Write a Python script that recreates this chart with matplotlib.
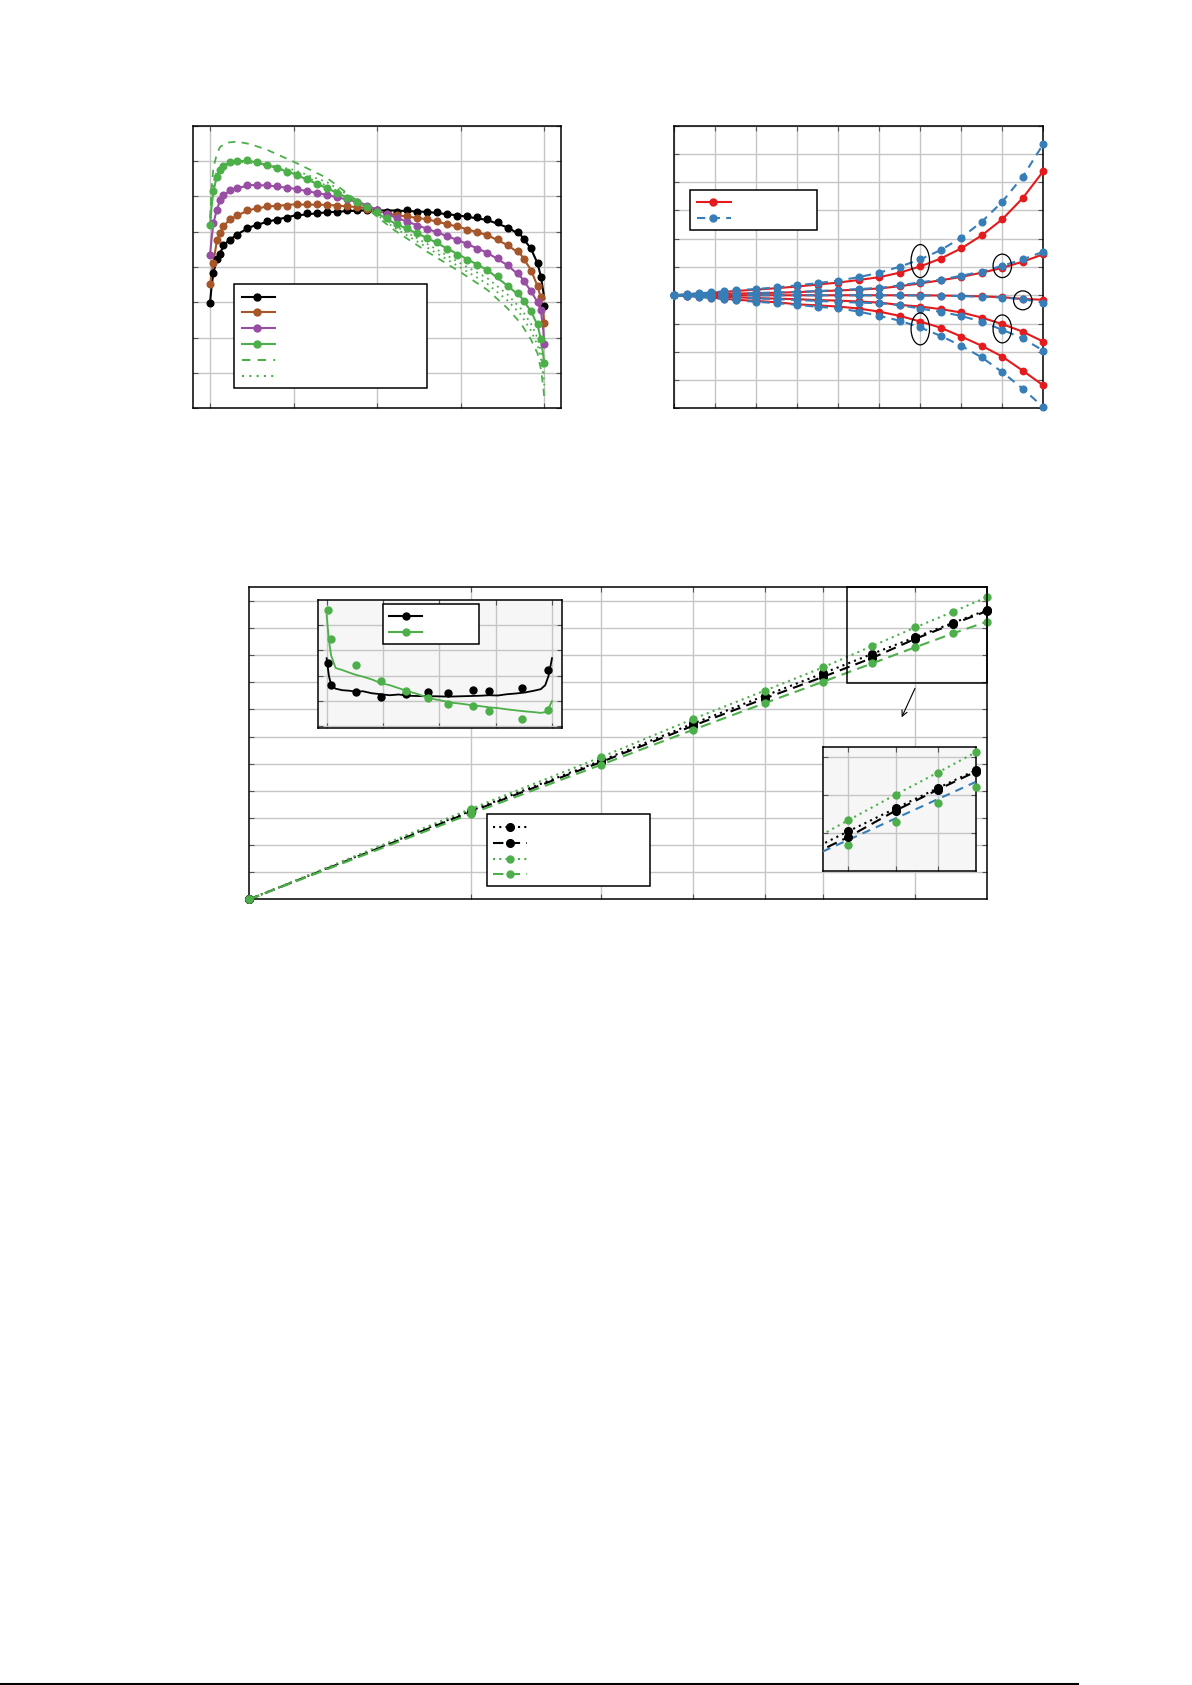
import matplotlib
matplotlib.use("Agg")
import matplotlib.pyplot as plt
from matplotlib.patches import Rectangle, Ellipse
from matplotlib.lines import Line2D
from matplotlib.ticker import NullLocator

W, H = 1192, 1685

BLACK = "#000000"
BROWN = "#a65628"
PURPLE = "#984ea3"
GREEN = "#4daf4a"
RED = "#e41a1c"
BLUE = "#377eb8"

# ---- top-left panel: profiles (markers + fitted lines) ----
tl_x_pts = [0.0, 0.01, 0.02, 0.03, 0.04, 0.06, 0.08, 0.11, 0.14, 0.17, 0.20, 0.23, 0.26, 0.29,
            0.32, 0.35, 0.38, 0.41, 0.44, 0.47, 0.50, 0.53, 0.56, 0.59, 0.62, 0.65, 0.68, 0.71,
            0.74, 0.77, 0.80, 0.83, 0.86, 0.89, 0.92, 0.94, 0.96, 0.98, 0.99, 1.0]
black_pts = [2.98, 3.83, 4.23, 4.38, 4.61, 4.77, 4.92, 5.10, 5.20, 5.29, 5.34, 5.39, 5.48, 5.53,
             5.53, 5.57, 5.57, 5.60, 5.60, 5.60, 5.62, 5.55, 5.55, 5.62, 5.55, 5.55, 5.57, 5.50,
             5.45, 5.45, 5.41, 5.36, 5.26, 5.10, 4.98, 4.79, 4.54, 4.10, 3.72, 2.91]
brown_pts = [3.51, 4.10, 4.76, 4.97, 5.16, 5.35, 5.46, 5.60, 5.67, 5.72, 5.73, 5.74, 5.79, 5.79,
             5.79, 5.76, 5.74, 5.72, 5.70, 5.65, 5.58, 5.50, 5.47, 5.44, 5.40, 5.35, 5.30, 5.22,
             5.15, 5.05, 4.98, 4.90, 4.78, 4.62, 4.45, 4.22, 3.90, 3.45, 3.15, 2.42]
purple_pts = [4.35, 5.24, 5.62, 5.90, 6.03, 6.17, 6.23, 6.32, 6.33, 6.31, 6.28, 6.24, 6.21, 6.15,
              6.09, 6.04, 5.99, 5.93, 5.83, 5.72, 5.62, 5.50, 5.38, 5.27, 5.17, 5.08, 4.99, 4.88,
              4.77, 4.64, 4.52, 4.40, 4.25, 4.05, 3.83, 3.60, 3.32, 3.02, 2.78, 1.81]
green_pts = [5.20, 6.14, 6.56, 6.75, 6.86, 6.96, 7.00, 7.03, 6.96, 6.89, 6.80, 6.70, 6.61, 6.49,
             6.36, 6.23, 6.09, 5.95, 5.83, 5.70, 5.55, 5.40, 5.22, 5.10, 4.96, 4.82, 4.71, 4.51,
             4.35, 4.21, 4.07, 3.91, 3.74, 3.47, 3.27, 3.03, 2.75, 2.40, 1.95, 1.29]

tl_x_line = [0.0, 0.005, 0.01, 0.02, 0.03, 0.05, 0.08, 0.12, 0.17, 0.25, 0.35, 0.45, 0.55, 0.65,
             0.75, 0.83, 0.89, 0.93, 0.96, 0.98, 0.99, 0.997, 1.0]
black_line = [3.0, 3.5, 3.83, 4.22, 4.42, 4.7, 4.92, 5.13, 5.28, 5.45, 5.55, 5.6, 5.6, 5.56,
              5.45, 5.33, 5.12, 4.9, 4.52, 4.1, 3.72, 3.3, 3.1]
brown_line = [3.5, 3.85, 4.15, 4.72, 4.97, 5.26, 5.46, 5.62, 5.71, 5.77, 5.76, 5.69, 5.48, 5.35,
              5.12, 4.90, 4.62, 4.35, 3.92, 3.45, 3.12, 2.7, 2.42]
purple_line = [4.35, 4.85, 5.24, 5.62, 5.88, 6.1, 6.23, 6.32, 6.31, 6.22, 6.04, 5.82, 5.42, 5.08,
               4.73, 4.40, 4.05, 3.72, 3.32, 3.0, 2.75, 2.2, 1.81]
green_line = [5.2, 5.75, 6.14, 6.56, 6.75, 6.92, 7.0, 7.0, 6.89, 6.64, 6.23, 5.79, 5.25, 4.82,
              4.32, 3.91, 3.47, 3.15, 2.75, 2.35, 1.95, 1.5, 1.25]
green_dash_line = [5.4, 6.3, 6.8, 7.2, 7.4, 7.52, 7.55, 7.48, 7.32, 6.98, 6.52, 5.8, 5.05, 4.43,
                   3.85, 3.35, 2.83, 2.4, 1.95, 1.55, 1.1, 0.6, 0.3]
green_dot_a = [5.2, 5.9, 6.3, 6.6, 6.75, 6.88, 6.95, 6.95, 6.87, 6.68, 6.3, 5.82, 5.18, 4.65,
               4.1, 3.68, 3.22, 2.82, 2.4, 1.98, 1.62, 1.15, 0.85]
green_dot_b = [5.2, 6.0, 6.4, 6.7, 6.85, 6.95, 6.98, 6.95, 6.9, 6.75, 6.4, 5.82, 5.12, 4.55,
               3.98, 3.52, 3.05, 2.65, 2.2, 1.78, 1.4, 0.95, 0.65]

# ---- top-right panel: spreading trajectories ----
tr_x = [0, 0.3, 0.6, 0.9, 1.2, 1.5, 2, 2.5, 3, 3.5, 4, 4.5, 5, 5.5, 6, 6.5, 7, 7.5, 8, 8.5, 9]
red_curves = [
    [4.0, 4.03, 4.06, 4.09, 4.12, 4.15, 4.20, 4.25, 4.31, 4.38, 4.45, 4.54, 4.64, 4.80, 5.02, 5.30, 5.66, 6.12, 6.69, 7.44, 8.39],
    [4.0, 4.01, 4.03, 4.04, 4.05, 4.06, 4.07, 4.09, 4.11, 4.14, 4.17, 4.20, 4.24, 4.32, 4.42, 4.53, 4.65, 4.80, 4.97, 5.19, 5.45],
    [4.0, 4.0, 4.0, 4.0, 4.0, 4.0, 4.0, 4.0, 4.0, 4.0, 4.0, 4.0, 4.0, 4.0, 4.0, 3.99, 3.98, 3.96, 3.93, 3.87, 3.84],
    [4.0, 3.99, 3.97, 3.96, 3.95, 3.93, 3.90, 3.88, 3.86, 3.83, 3.81, 3.78, 3.74, 3.66, 3.60, 3.51, 3.39, 3.21, 2.98, 2.71, 2.36],
    [4.0, 3.98, 3.95, 3.92, 3.88, 3.84, 3.80, 3.75, 3.68, 3.64, 3.60, 3.53, 3.42, 3.27, 3.07, 2.85, 2.54, 2.21, 1.83, 1.33, 0.81],
]
blue_curves = [
    [4.0, 4.04, 4.07, 4.10, 4.14, 4.18, 4.22, 4.28, 4.35, 4.43, 4.52, 4.64, 4.80, 5.01, 5.27, 5.60, 6.04, 6.60, 7.31, 8.20, 9.35],
    [4.0, 4.01, 4.03, 4.04, 4.05, 4.06, 4.08, 4.10, 4.12, 4.15, 4.18, 4.22, 4.26, 4.35, 4.46, 4.55, 4.69, 4.84, 5.04, 5.27, 5.54],
    [4.0, 4.0, 4.0, 4.0, 4.0, 4.0, 4.0, 4.0, 4.0, 4.0, 4.0, 4.0, 4.0, 4.0, 3.99, 3.99, 3.97, 3.95, 3.92, 3.86, 3.74],
    [4.0, 3.99, 3.97, 3.96, 3.94, 3.92, 3.89, 3.86, 3.83, 3.80, 3.77, 3.74, 3.72, 3.65, 3.53, 3.41, 3.27, 3.06, 2.78, 2.47, 2.04],
    [4.0, 3.98, 3.94, 3.90, 3.86, 3.82, 3.77, 3.72, 3.66, 3.59, 3.54, 3.42, 3.27, 3.10, 2.86, 2.56, 2.21, 1.80, 1.28, 0.69, 0.04],
]
ellipse_x = [6, 8, 8.5, 6, 8]
ellipse_y = [5.21, 5.04, 3.82, 2.81, 2.81]
ellipse_w = [0.45, 0.45, 0.45, 0.45, 0.45]
ellipse_h = [1.17, 0.83, 0.67, 1.13, 0.99]

# ---- bottom panel: scaling on log x ----
b_x = [1, 2, 3, 4, 5, 6, 7, 8, 9, 10]
black_dotted = [0, 3.27, 5.11, 6.48, 7.50, 8.33, 9.05, 9.66, 10.19, 10.66]
black_dashed = [0, 3.23, 5.06, 6.40, 7.40, 8.20, 8.90, 9.60, 10.15, 10.62]
green_dotted = [0, 3.34, 5.24, 6.65, 7.69, 8.55, 9.34, 10.02, 10.60, 11.13]
green_dashed = [0, 3.16, 4.96, 6.25, 7.23, 8.02, 8.70, 9.29, 9.80, 10.23]
blue_fit_x = [6.52, 10]
blue_fit_y = [8.52, 10.35]

# inset: distribution
ins_x_pts = [0.008, 0.018, 0.13, 0.24, 0.35, 0.45, 0.54, 0.65, 0.72, 0.865, 0.98]
ins_black_pts = [2.49, 1.63, 1.34, 1.16, 1.26, 1.34, 1.32, 1.43, 1.40, 1.49, 2.22]
ins_green_pts = [4.60, 3.45, 2.42, 1.79, 1.39, 1.12, 0.87, 0.79, 0.58, 0.29, 0.62]
ins_x_line = [0, 0.01, 0.02, 0.04, 0.07, 0.1, 0.13, 0.16, 0.2, 0.24, 0.28, 0.32, 0.36, 0.4, 0.44,
              0.48, 0.52, 0.56, 0.6, 0.64, 0.68, 0.72, 0.76, 0.8, 0.84, 0.88, 0.92, 0.95, 0.97,
              0.985, 1.0]
ins_black_line = [2.69, 2.0, 1.62, 1.48, 1.42, 1.40, 1.36, 1.38, 1.30, 1.26, 1.22, 1.25, 1.20, 1.19,
                  1.18, 1.18, 1.17, 1.17, 1.18, 1.19, 1.20, 1.22, 1.21, 1.26, 1.29, 1.33, 1.40,
                  1.46, 1.62, 2.0, 2.69]
ins_green_line = [4.40, 3.4, 2.8, 2.3, 2.22, 2.12, 2.03, 1.96, 1.85, 1.70, 1.62, 1.50, 1.38, 1.28,
                  1.15, 1.06, 0.99, 0.92, 0.88, 0.83, 0.79, 0.74, 0.71, 0.66, 0.62, 0.58, 0.55,
                  0.52, 0.55, 0.70, 0.99]

DOT = (0, (1, 2))
DASH = (0, (5, 3))


def add_axes_px(fig, left, top, right, bottom):
    return fig.add_axes([left / W, 1 - bottom / H, (right - left) / W, (bottom - top) / H])


def style_axes(ax, face="white"):
    ax.set_facecolor(face)
    ax.grid(True, color="#c6c6c6", lw=1.0)
    ax.set_axisbelow(True)
    ax.tick_params(which="both", direction="in", length=3.5, width=0.8, color="#555555",
                   top=True, right=True, labelbottom=False, labelleft=False)
    for spine in ax.spines.values():
        spine.set_linewidth(1.1)


def draw_legend(ax, box, rows, seg, mark_x, styles):
    x0, y0, x1, y1 = box
    ax.add_patch(Rectangle((x0, y0), x1 - x0, y1 - y0, transform=ax.transAxes,
                           facecolor="white", edgecolor="black", lw=1.1, zorder=10, clip_on=False))
    for y, (color, ls, ms) in zip(rows, styles):
        ax.plot(seg, [y, y], transform=ax.transAxes, color=color, ls=ls, lw=1.5,
                zorder=11, clip_on=False)
        if ms:
            ax.plot([mark_x], [y], transform=ax.transAxes, marker="o", ms=ms, color=color,
                    zorder=12, clip_on=False)


fig = plt.figure(figsize=(W / 100, H / 100), dpi=100)

# ---------------- top-left ----------------
ax1 = add_axes_px(fig, 192.7, 125.7, 561, 408.3)
style_axes(ax1)
for pts, line, color in [(black_pts, black_line, BLACK), (brown_pts, brown_line, BROWN),
                         (purple_pts, purple_line, PURPLE), (green_pts, green_line, GREEN)]:
    ax1.plot(tl_x_line, line, color=color, lw=1.5, zorder=3)
    ax1.plot(tl_x_pts, pts, ls="none", marker="o", ms=4.8, color=color, zorder=4, clip_on=False)
ax1.plot(tl_x_line, green_dash_line, color=GREEN, ls=(0, (4, 3.5)), lw=1.3, zorder=3)
ax1.plot(tl_x_line, green_dot_a, color=GREEN, ls=(0, (1, 2.5)), lw=1.3, zorder=3)
ax1.plot(tl_x_line, green_dot_b, color=GREEN, ls=(0, (1, 2.5)), lw=1.3, zorder=3)
ax1.set_xlim(-0.052, 1.05)
ax1.set_ylim(0, 8)
ax1.set_xticks([0, 0.25, 0.5, 0.75, 1.0])
ax1.set_yticks(range(0, 9))
draw_legend(ax1, (0.1133, 0.0708, 0.6357, 0.4388),
            [0.394, 0.339, 0.283, 0.226, 0.171, 0.114], [0.1331, 0.2236], 0.1754,
            [(BLACK, "-", 5), (BROWN, "-", 5), (PURPLE, "-", 5), (GREEN, "-", 5),
             (GREEN, (0, (4, 3.5)), 0), (GREEN, (0, (1, 2.5)), 0)])

# ---------------- top-right ----------------
ax2 = add_axes_px(fig, 674.3, 125.7, 1043.3, 408.3)
style_axes(ax2)
for ys in red_curves:
    ax2.plot(tr_x, ys, color=RED, lw=1.5, marker="o", ms=4.6, zorder=3, clip_on=False)
for ys in blue_curves:
    ax2.plot(tr_x, ys, color=BLUE, lw=1.5, ls=(0, (4, 3)), marker="o", ms=4.8, zorder=4,
             clip_on=False)
for ex, ey, ew, eh in zip(ellipse_x, ellipse_y, ellipse_w, ellipse_h):
    ax2.add_patch(Ellipse((ex, ey), ew, eh, fill=False, edgecolor="black", lw=0.9, zorder=6))
ax2.set_xlim(0, 9)
ax2.set_ylim(0, 10)
ax2.set_xticks(range(0, 10))
ax2.set_yticks(range(0, 11))
draw_legend(ax2, (0.0434, 0.630, 0.3875, 0.771), [0.730, 0.673], [0.0623, 0.1528], 0.1057,
            [(RED, "-", 5), (BLUE, (0, (4, 3)), 5)])

# ---------------- bottom ----------------
ax3 = add_axes_px(fig, 249.3, 587.3, 986.7, 899.3)
style_axes(ax3)
ax3.set_xscale("log")
ax3.plot(b_x, black_dotted, color=BLACK, ls=DOT, lw=1.5, marker="o", ms=5.5, zorder=4, clip_on=False)
ax3.plot(b_x, black_dashed, color=BLACK, ls=DASH, lw=1.5, marker="o", ms=5.5, zorder=4, clip_on=False)
ax3.plot(b_x, green_dotted, color=GREEN, ls=DOT, lw=1.5, marker="o", ms=5.0, zorder=5, clip_on=False)
ax3.plot(b_x, green_dashed, color=GREEN, ls=DASH, lw=1.5, marker="o", ms=5.0, zorder=5, clip_on=False)
ax3.set_xlim(1, 10)
ax3.set_ylim(0, 11.5)
ax3.set_xticks([2, 3, 4, 5, 6, 8])
ax3.xaxis.set_minor_locator(NullLocator())
ax3.set_yticks(range(1, 12))
ax3.add_patch(Rectangle((6.47, 7.98), 10 - 6.47, 11.5 - 7.98, fill=False, edgecolor="black",
                        lw=1.1, zorder=6, clip_on=False))
ax3.annotate("", xy=(0.8847, 0.5833), xytext=(0.9028, 0.6763), xycoords="axes fraction",
             arrowprops=dict(arrowstyle="->", lw=0.8, color="black", shrinkA=0, shrinkB=0))
draw_legend(ax3, (0.3219, 0.0426, 0.5438, 0.2724), [0.2317, 0.1814, 0.1301, 0.0801],
            [0.3307, 0.3760], 0.3533,
            [(BLACK, DOT, 5.5), (BLACK, DASH, 5.5), (GREEN, DOT, 5.0), (GREEN, DASH, 5.0)])

# inset: distribution (upper left)
ax4 = add_axes_px(fig, 317.6, 600, 561.7, 728)
style_axes(ax4, face="#f6f6f6")
ax4.plot(ins_x_line, ins_black_line, color=BLACK, lw=1.3, zorder=3)
ax4.plot(ins_x_line, ins_green_line, color=GREEN, lw=1.3, zorder=3)
ax4.plot(ins_x_pts, ins_black_pts, ls="none", marker="o", ms=5.0, color=BLACK, zorder=4)
ax4.plot(ins_x_pts, ins_green_pts, ls="none", marker="o", ms=5.0, color=GREEN, zorder=4)
ax4.set_xlim(-0.04, 1.043)
ax4.set_ylim(-0.08, 5.0)
ax4.set_xticks([0, 0.25, 0.5, 0.75, 1.0])
ax4.set_yticks(range(0, 5))
draw_legend(ax4, (0.2667, 0.654, 0.6624, 0.966), [0.875, 0.752], [0.2925, 0.4289], 0.361,
            [(BLACK, "-", 5), (GREEN, "-", 5)])

# inset: zoom (lower right)
ax5 = add_axes_px(fig, 822.7, 746.7, 975.5, 871.3)
style_axes(ax5, face="#f6f6f6")
ax5.set_xscale("log")
ax5.set_xlim(6.52, 10)
ax5.set_ylim(8.0, 11.28)
ax5.plot(b_x, black_dotted, color=BLACK, ls=DOT, lw=1.5, zorder=4)
ax5.plot(b_x, black_dashed, color=BLACK, ls=DASH, lw=1.5, zorder=4)
ax5.plot(b_x, green_dotted, color=GREEN, ls=DOT, lw=1.5, zorder=3)
ax5.plot(blue_fit_x, blue_fit_y, color=BLUE, ls=(0, (4, 3)), lw=1.5, zorder=3)
# markers for the points inside the zoomed window, allowed to overhang the edge
inside = [i for i, xv in enumerate(b_x) if xv >= 6.52]
for ys, color, ms, z in [(black_dotted, BLACK, 5.5, 5), (black_dashed, BLACK, 5.5, 5),
                         (green_dotted, GREEN, 5.0, 4), (green_dashed, GREEN, 5.0, 4)]:
    ax5.plot([b_x[i] for i in inside], [ys[i] for i in inside], ls="none", marker="o", ms=ms,
             color=color, zorder=z, clip_on=False)
ax5.set_xticks([7, 8, 9])
ax5.xaxis.set_minor_locator(NullLocator())
ax5.set_yticks([9, 10, 11])

fig.add_artist(Line2D([0, 1078 / W], [1 - 1684 / H, 1 - 1684 / H], color="black", lw=1.5))

fig.savefig("out.png", dpi=100)
